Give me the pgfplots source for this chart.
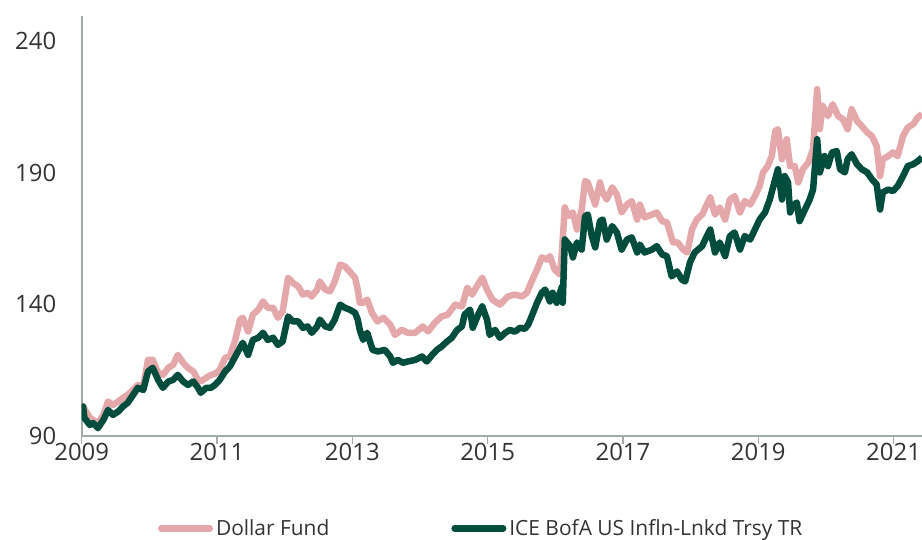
\documentclass[border=0pt]{standalone}
\usepackage{fontspec}
\setmainfont{Open Sans}
\usepackage{pgfplots}
\pgfplotsset{compat=1.18}
\definecolor{pinkc}{HTML}{E4A7AA}
\definecolor{greenc}{HTML}{004C3D}
\definecolor{axgray}{HTML}{A2ACA5}
\definecolor{txt}{HTML}{333333}

\pgfplotstableread{
x y
2009.00 100.5
2009.02 101.2
2009.04 96.9
2009.12 94.2
2009.17 94.9
2009.24 93.0
2009.32 96.1
2009.39 99.9
2009.46 98.0
2009.54 99.3
2009.61 101.2
2009.68 102.6
2009.76 105.6
2009.83 108.3
2009.91 107.5
2009.98 114.5
2010.05 115.9
2010.13 111.3
2010.20 108.3
2010.28 110.7
2010.35 111.3
2010.42 113.2
2010.50 110.7
2010.57 109.4
2010.65 110.7
2010.72 108.3
2010.76 106.4
2010.84 108.3
2010.91 108.3
2010.97 109.4
2011.04 111.3
2011.12 114.5
2011.19 116.4
2011.27 120.2
2011.34 123.5
2011.38 125.4
2011.46 120.8
2011.53 126.5
2011.61 127.3
2011.68 129.2
2011.75 126.5
2011.83 127.3
2011.90 124.6
2011.97 125.9
2012.05 135.4
2012.12 133.5
2012.20 133.5
2012.27 131.1
2012.34 131.6
2012.40 129.2
2012.48 131.6
2012.52 134.2
2012.60 131.6
2012.67 131.1
2012.74 134.2
2012.82 139.9
2012.89 138.7
2012.96 138.0
2013.04 136.8
2013.08 134.2
2013.11 130.3
2013.16 126.5
2013.22 129.2
2013.26 125.9
2013.30 122.7
2013.38 122.1
2013.48 122.7
2013.56 120.2
2013.60 117.8
2013.67 118.9
2013.75 117.8
2013.82 118.3
2013.93 118.9
2014.03 120.2
2014.10 118.3
2014.18 120.8
2014.25 122.7
2014.32 124.0
2014.40 125.9
2014.47 127.3
2014.55 130.3
2014.62 131.6
2014.66 136.1
2014.74 138.0
2014.78 131.1
2014.86 136.1
2014.92 139.2
2014.99 134.2
2015.03 128.4
2015.11 130.3
2015.18 127.3
2015.26 129.2
2015.33 130.3
2015.40 129.6
2015.48 131.1
2015.55 130.7
2015.60 132.3
2015.65 135.4
2015.73 140.6
2015.80 144.4
2015.85 145.6
2015.92 141.1
2015.96 144.4
2016.02 140.6
2016.10 146.8
2016.11 140.6
2016.14 164.6
2016.22 162.1
2016.26 157.8
2016.32 163.5
2016.39 160.8
2016.44 173.5
2016.48 174.1
2016.54 165.9
2016.59 161.6
2016.66 171.6
2016.70 172.2
2016.76 164.6
2016.84 169.7
2016.91 167.3
2016.98 160.8
2017.06 164.6
2017.13 165.4
2017.21 159.7
2017.25 162.7
2017.32 159.7
2017.43 160.8
2017.50 162.1
2017.58 158.9
2017.65 158.3
2017.72 150.6
2017.80 152.5
2017.87 149.4
2017.92 148.7
2017.99 155.9
2018.06 159.7
2018.17 162.1
2018.24 165.9
2018.29 168.4
2018.36 159.7
2018.43 163.5
2018.51 158.3
2018.58 165.9
2018.65 167.3
2018.73 160.8
2018.80 165.9
2018.88 164.6
2018.95 168.4
2019.02 172.2
2019.10 174.9
2019.17 179.8
2019.25 187.5
2019.29 191.3
2019.35 179.8
2019.39 188.7
2019.44 186.3
2019.47 174.9
2019.51 177.3
2019.57 178.7
2019.61 171.6
2019.69 176.0
2019.76 179.8
2019.81 183.6
2019.87 202.7
2019.91 190.1
2019.98 196.3
2020.03 192.5
2020.09 197.7
2020.16 198.2
2020.21 191.3
2020.28 190.1
2020.32 195.1
2020.38 197.0
2020.46 193.2
2020.53 191.3
2020.61 190.1
2020.68 187.5
2020.75 185.5
2020.80 176.0
2020.84 182.5
2020.92 183.6
2020.99 183.0
2021.06 184.9
2021.14 188.7
2021.21 192.5
2021.29 193.2
2021.36 194.4
2021.42 195.8
}\indextable

\pgfplotstableread{
x y
2009.00 100.5
2009.02 101.2
2009.12 96.9
2009.17 96.1
2009.24 94.8
2009.32 98.0
2009.39 103.1
2009.46 101.8
2009.54 103.1
2009.61 104.5
2009.68 105.6
2009.76 107.5
2009.83 109.4
2009.91 108.8
2009.98 118.9
2010.05 118.9
2010.13 114.0
2010.20 113.2
2010.28 115.9
2010.35 117.0
2010.42 120.8
2010.50 117.8
2010.57 115.9
2010.65 114.5
2010.72 111.3
2010.76 110.7
2010.84 112.1
2010.91 113.2
2010.97 113.6
2011.04 115.1
2011.12 119.7
2011.19 120.2
2011.27 126.5
2011.34 134.2
2011.38 134.9
2011.46 129.7
2011.53 136.1
2011.61 138.0
2011.68 141.1
2011.75 138.7
2011.83 138.7
2011.90 134.9
2011.97 137.3
2012.05 150.1
2012.12 148.2
2012.20 146.8
2012.27 143.7
2012.34 144.4
2012.40 143.0
2012.48 145.6
2012.52 148.7
2012.60 145.6
2012.67 144.9
2012.74 148.7
2012.82 155.1
2012.89 154.4
2012.96 152.5
2013.04 150.1
2013.08 145.6
2013.11 140.6
2013.16 140.6
2013.22 141.8
2013.29 136.8
2013.37 133.5
2013.46 134.9
2013.56 132.3
2013.63 128.4
2013.73 130.3
2013.82 129.2
2013.93 129.2
2014.04 131.6
2014.12 129.7
2014.22 133.0
2014.32 135.4
2014.41 136.1
2014.52 139.9
2014.62 139.2
2014.70 146.3
2014.77 143.7
2014.84 146.8
2014.92 150.1
2014.99 145.6
2015.07 141.8
2015.14 140.6
2015.18 139.9
2015.30 143.0
2015.40 143.7
2015.51 143.0
2015.58 144.4
2015.65 148.7
2015.73 153.2
2015.80 157.8
2015.88 157.0
2015.92 158.3
2015.99 153.2
2016.07 151.3
2016.10 160.8
2016.14 176.8
2016.19 173.5
2016.26 174.9
2016.32 168.4
2016.39 176.0
2016.44 186.8
2016.48 186.3
2016.54 181.7
2016.59 177.9
2016.66 186.3
2016.70 182.5
2016.76 179.8
2016.84 184.4
2016.91 181.7
2016.98 174.9
2017.06 177.9
2017.13 179.2
2017.21 172.2
2017.25 177.9
2017.32 173.0
2017.43 174.1
2017.50 174.9
2017.58 171.6
2017.65 171.1
2017.74 163.5
2017.81 163.5
2017.89 160.8
2017.95 159.7
2018.02 168.4
2018.09 172.2
2018.17 174.1
2018.24 177.9
2018.29 180.6
2018.36 174.1
2018.43 176.8
2018.51 172.2
2018.58 179.8
2018.65 181.1
2018.73 174.9
2018.80 179.2
2018.88 177.9
2018.95 181.1
2019.02 184.9
2019.07 190.1
2019.14 192.5
2019.20 196.3
2019.25 205.8
2019.29 206.5
2019.35 195.1
2019.42 202.7
2019.47 192.5
2019.54 192.5
2019.59 186.3
2019.66 191.3
2019.74 193.9
2019.81 198.9
2019.87 221.7
2019.91 206.5
2019.95 215.4
2020.03 211.5
2020.10 216.0
2020.18 211.5
2020.25 210.3
2020.32 206.5
2020.38 214.1
2020.46 209.6
2020.53 207.7
2020.61 205.3
2020.68 203.9
2020.75 200.1
2020.80 188.7
2020.84 195.1
2020.92 196.3
2020.99 197.7
2021.06 196.3
2021.14 203.9
2021.21 207.2
2021.29 208.4
2021.36 211.1
2021.42 212.2
}\fundtable

\begin{document}
\begin{tikzpicture}
\path[use as bounding box] (-81.7bp,-104bp) rectangle (840.3bp,436bp);
\begin{axis}[
  at={(0,0)}, anchor=south west,
  scale only axis, width=840.3bp, height=420bp,
  xmin=2009, xmax=2021.42, ymin=90, ymax=249.5,
  axis x line*=bottom, axis y line*=left,
  axis line style={axgray, line width=1.8bp},
  xtick={2009,2011,2013,2015,2017,2019,2021},
  xticklabels={2009,2011,2013,2015,2017,2019,2021},
  ytick={90,140,190,240},
  tick label style={font=\fontsize{24}{28}\selectfont, text=txt},
  /pgf/number format/assume math mode=true,
  xtick style={axgray, line width=1.5bp},
  ytick style={draw=none},
  major tick length=8bp, tick align=outside,
  yticklabel style={xshift=-14bp},
  xticklabel style={yshift=4bp},
  legend columns=2,
  legend style={draw=none, fill=none, inner sep=0pt, outer sep=0pt,
    at={(rel axis cs:0.0908,-0.2200)}, anchor=west,
    font=\fontsize{21}{25}\selectfont, text=txt,
    nodes={inner sep=0pt},
    column sep=3bp,
    /tikz/every even column/.append style={column sep=122bp}},
  legend image code/.code={\draw[#1, line cap=round] (3.25bp,0bp) -- (51.75bp,0bp);},
]
\addplot[pinkc, line width=6.5bp, line join=round] table[x=x,y=y] {\fundtable};
\addlegendentry{Dollar Fund}
\addplot[greenc, line width=6.5bp, line join=round] table[x=x,y=y] {\indextable};
\addlegendentry{ICE BofA US Infln-Lnkd Trsy TR}
\end{axis}
\end{tikzpicture}
\end{document}
